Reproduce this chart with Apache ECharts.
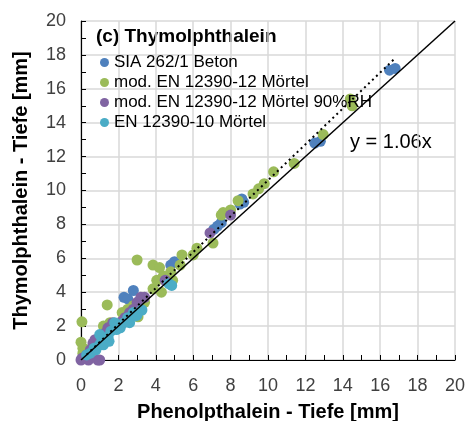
<!DOCTYPE html>
<html><head><meta charset="utf-8">
<script src="https://cdn.jsdelivr.net/npm/echarts@6/dist/echarts.min.js"></script>
<style>html,body{margin:0;padding:0;background:#fff}#c{width:465px;height:421px}</style>
</head><body><div id="c"></div>
<script>
const seriesNames = ['SIA 262/1 Beton', 'mod. EN 12390-12 Mörtel', 'mod. EN 12390-12 Mörtel 90%RH', 'EN 12390-10 Mörtel'];
const blueX = [0.2, 2.3, 2.5, 2.8, 4.8, 5.0, 7.1, 7.3, 7.5, 8.5, 8.6, 8.7, 12.5, 12.8, 16.5, 16.8];
const blueY = [0.2, 3.7, 3.6, 4.1, 5.6, 5.8, 7.7, 7.9, 8.1, 9.2, 9.5, 9.3, 12.8, 12.9, 17.1, 17.2];
const greenX = [0.05, 0.0, 0.1, 0.1, 0.3, 1.4, 1.2, 1.55, 1.5, 0.8, 2.2, 2.5, 2.8, 3.0, 3.05, 3.0, 3.4, 3.85, 4.05, 3.85, 4.2, 4.3, 4.4, 4.9, 4.8, 5.3, 5.4, 6.0, 6.2, 7.06, 7.5, 7.6, 8.0, 8.4, 9.2, 9.5, 9.8, 10.3, 11.4, 12.95, 14.4, 14.5];
const greenY = [2.25, 1.05, 0.7, 0.4, 0.6, 3.25, 2.0, 2.2, 1.9, 1.0, 2.8, 3.0, 3.2, 3.1, 2.55, 5.9, 3.4, 4.2, 4.7, 5.6, 5.45, 4.0, 4.95, 4.7, 5.2, 5.6, 6.2, 6.2, 6.6, 6.9, 8.55, 8.7, 8.85, 9.4, 9.8, 10.1, 10.4, 11.1, 11.6, 13.3, 15.4, 15.0];
const purpleX = [0.0, 0.05, 0.4, 0.9, 1.0, 0.3, 0.64, 0.75, 1.0, 1.2, 1.44, 1.7, 1.9, 2.1, 2.35, 2.6, 3.0, 3.2, 3.4, 4.5, 6.9, 8.0, 0.5, 1.3, 2.2, 2.8];
const purpleY = [0.0, 0.1, 0.0, 0.0, 0.0, 0.3, 1.0, 1.2, 1.3, 1.1, 1.9, 2.2, 2.0, 2.0, 2.5, 2.8, 3.4, 3.7, 3.7, 4.7, 7.5, 8.55, 0.6, 1.6, 2.3, 3.0];
const cyanX = [0.3, 0.5, 0.7, 1.0, 1.1, 1.0, 1.3, 1.45, 1.6, 1.8, 1.9, 2.0, 2.3, 2.5, 2.6, 2.8, 3.0, 3.26, 2.9, 4.7, 4.85, 1.2, 0.8, 1.5, 2.1];
const cyanY = [0.3, 0.4, 0.7, 0.9, 1.1, 1.5, 1.3, 1.35, 1.7, 2.2, 1.8, 2.0, 2.2, 2.5, 2.2, 2.8, 2.65, 2.95, 2.6, 4.5, 4.4, 0.9, 0.6, 1.1, 1.9];
const identityLine = [[0, 0], [20, 20]];
const trendSlope = 1.06;
const trendRange = [0.3, 16.8];
const axisTicks = [0, 2, 4, 6, 8, 10, 12, 14, 16, 18, 20];

const colors = ['#4F81BD', '#9BBB59', '#8064A2', '#4BACC6'];
const zip = (xs, ys) => xs.map((x, i) => [x, ys[i]]);
const sets = [zip(blueX, blueY), zip(greenX, greenY), zip(purpleX, purpleY), zip(cyanX, cyanY)];

const chart = echarts.init(document.getElementById('c'), null, {renderer: 'canvas'});
const axisCommon = (name, isX) => ({
  type: 'value', min: axisTicks[0], max: axisTicks[axisTicks.length - 1], interval: 2,
  name: name, nameLocation: 'middle', nameGap: isX ? 42 : 50,
  nameTextStyle: {fontFamily: 'Liberation Sans', fontWeight: 'bold', fontSize: 20, color: '#000'},
  axisLine: {show: true, onZero: false, lineStyle: {color: '#000', width: 1.2}},
  axisTick: {show: true, inside: true, length: 5, lineStyle: {color: '#000', width: 1}},
  minorTick: {show: true, splitNumber: 2, length: 5, lineStyle: {color: '#000', width: 1}},
  axisLabel: {fontFamily: 'Liberation Sans', fontSize: 18, color: '#404040', margin: isX ? 17 : 15},
  splitLine: {show: true, lineStyle: {color: '#d9d9d9', width: 1.5}}
});
const opt = {
  animation: false,
  backgroundColor: '#fff',
  grid: {left: 81, right: 10, top: 21, bottom: 61, containLabel: false, outerBoundsMode: 'none'},
  xAxis: axisCommon('Phenolpthalein - Tiefe [mm]', true),
  yAxis: axisCommon('Thymolphthalein - Tiefe [mm]', false),
  legend: {
    data: seriesNames, orient: 'vertical', left: 95, top: 49, itemWidth: 9, itemHeight: 9,
    itemGap: 3, itemTextGap: 5, icon: 'circle',
    textStyle: {fontFamily: 'Liberation Sans', fontSize: 17, color: '#000'}
  },
  graphic: [
    {type: 'text', left: 96, top: 27, style: {text: '(c) Thymolphthalein', font: 'bold 19px "Liberation Sans"', fill: '#000'}},
    {type: 'text', left: 350, top: 132, style: {text: 'y = 1.06x', font: '20px "Liberation Sans"', fill: '#000'}}
  ],
  series: [
    ...sets.map((d, i) => ({
      name: seriesNames[i], type: 'scatter', data: d, symbolSize: 11,
      itemStyle: {color: colors[i], opacity: 1}, z: 2 + i
    })),
    {type: 'line', data: identityLine, symbol: 'none', lineStyle: {color: '#000', width: 1.5}, z: 10, silent: true},
    {type: 'line', data: trendRange.map(x => [x, x * trendSlope]), symbol: 'none',
      lineStyle: {color: '#000', width: 2, type: [2, 3.5]}, z: 10, silent: true}
  ]
};
chart.setOption(opt);
</script></body></html>
